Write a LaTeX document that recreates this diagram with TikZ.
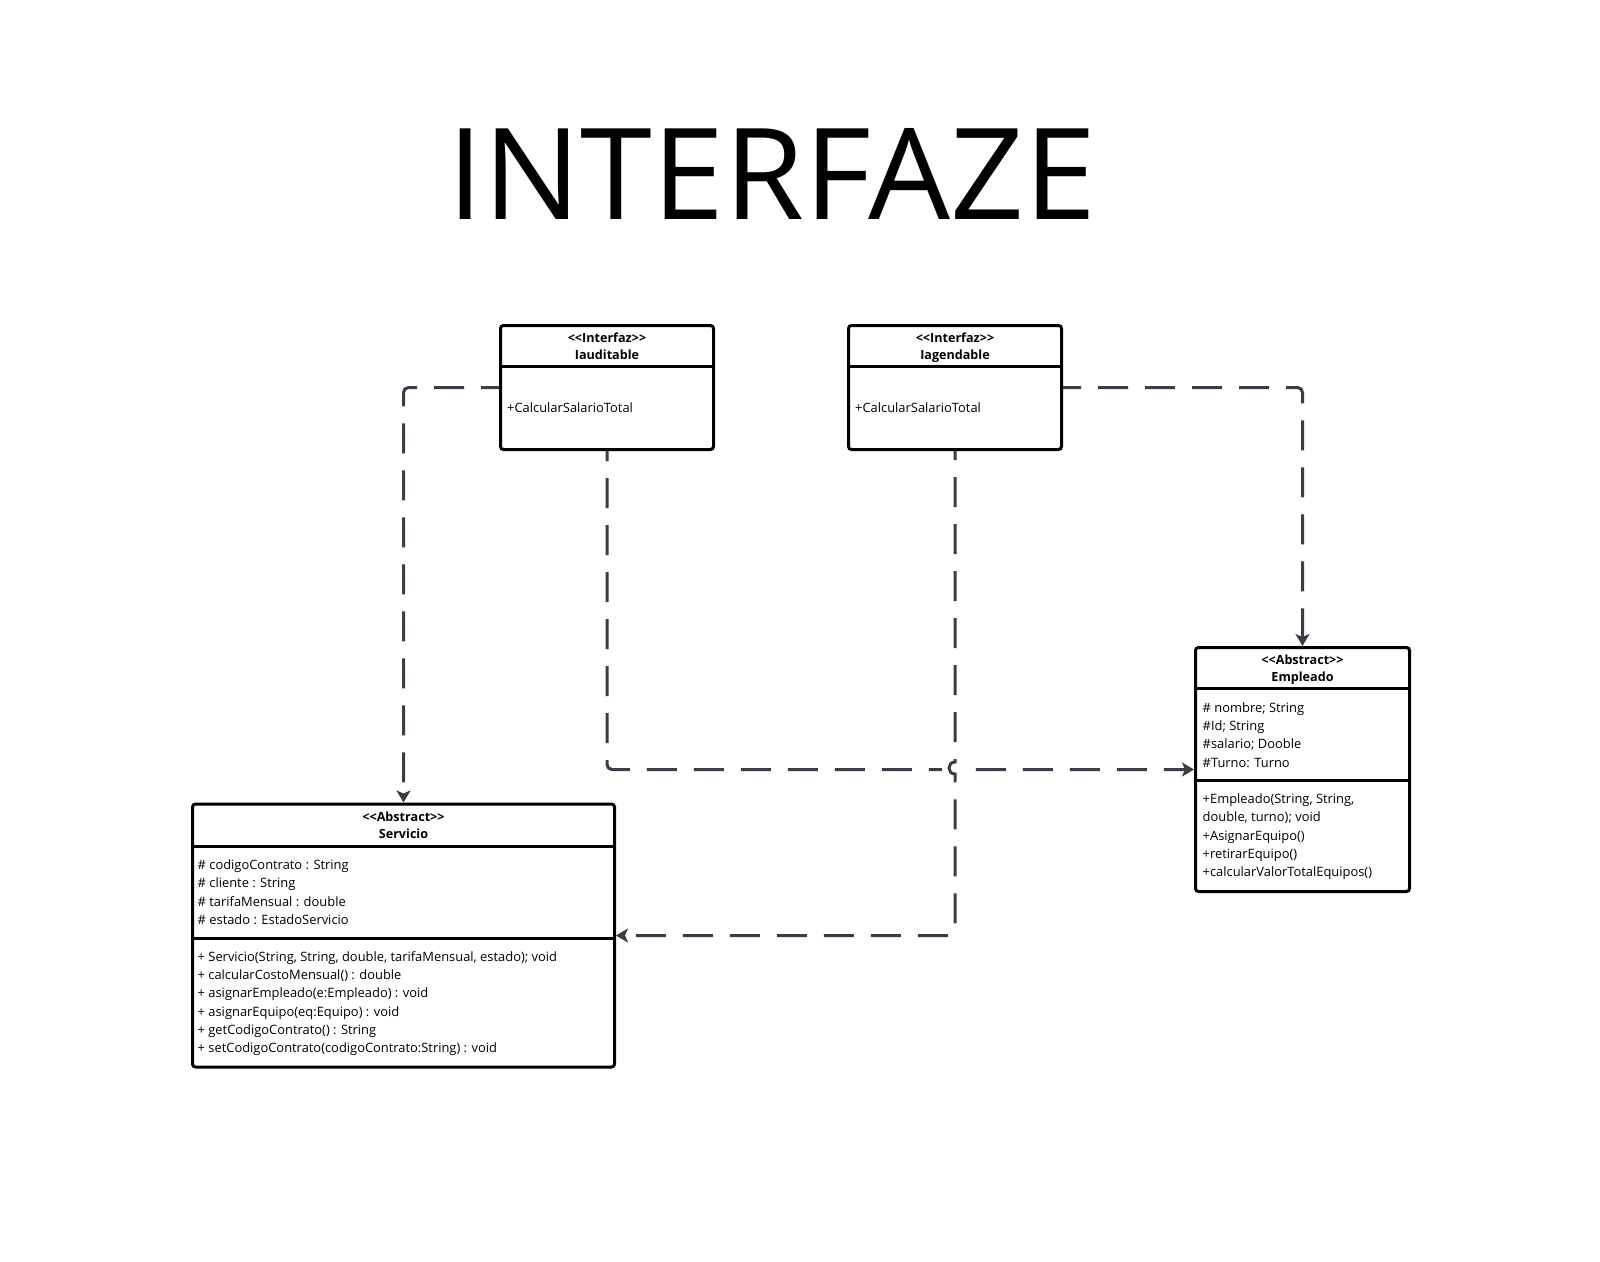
\documentclass[tikz,border=0pt]{standalone}
\usepackage{fontspec}
\setmainfont{Open Sans}
\usetikzlibrary{arrows.meta}
\definecolor{conn}{HTML}{3A3D45}
\begin{document}
\begin{tikzpicture}[x=1pt,y=-1pt,
  box/.style={draw=black, line width=3pt, rounded corners=3pt, inner sep=0pt, anchor=north west, fill=white},
  divider/.style={draw=black, line width=3pt},
  ln/.style={anchor=west, inner sep=0pt, font=\fontsize{12.9}{15}\selectfont, text height=9.2pt, text depth=0pt},
  hdr/.style={anchor=center, inner sep=0pt, font=\fontsize{12.6}{15}\selectfont\bfseries, text height=9pt, text depth=0pt},
  dep/.style={draw=conn, line width=3pt, dash pattern=on 30pt off 17pt,
    -{Stealth[length=12pt,width=14pt,inset=3pt]}}]
\useasboundingbox[fill=white] (0,0) rectangle (1600,1261);

% title
\node[inner sep=0pt, font=\fontsize{127}{130}\selectfont, text height=91pt, text depth=0pt] (title) at (772,173.5) {\scalebox{1.02}[1]{INTERFAZE}};

% boxes
\node[box, minimum width=213pt, minimum height=124pt] (aud) at (499,324) {};
\node[box, minimum width=213pt, minimum height=124pt] (agd) at (847,324) {};
\node[box, minimum width=214pt, minimum height=244pt] (emp) at (1194,646) {};
\node[box, minimum width=422pt, minimum height=263pt] (serv) at (191,802.5) {};

\draw[divider] (aud.west |- 0,366.5) -- (aud.east |- 0,366.5);
\draw[divider] (agd.west |- 0,366.5) -- (agd.east |- 0,366.5);
\draw[divider] (emp.west |- 0,688.5) -- (emp.east |- 0,688.5);
\draw[divider] (emp.west |- 0,780) -- (emp.east |- 0,780);
\draw[divider] (serv.west |- 0,846) -- (serv.east |- 0,846);
\draw[divider] (serv.west |- 0,938) -- (serv.east |- 0,938);

% Iauditable
\node[hdr] (audst) at (aud.north |- 0,337.5) {<{}<Interfaz>{}>};
\node[hdr] (audnm) at (aud.north |- 0,355) {Iauditable};
\node[ln] (audm) at (507,407.5) {+CalcularSalarioTotal};

% Iagendable
\node[hdr] (agdst) at (agd.north |- 0,337.5) {<{}<Interfaz>{}>};
\node[hdr] (agdnm) at (agd.north |- 0,355) {Iagendable};
\node[ln] (agdm) at (855,407.5) {+CalcularSalarioTotal};

% Empleado
\node[hdr] (empst) at (emp.north |- 0,659.5) {<{}<Abstract>{}>};
\node[hdr] (empnm) at (emp.north |- 0,677) {Empleado};
\node[ln] (ea1) at (1202.5,707.5) {\# nombre; String};
\node[ln] (ea2) at (1202.5,725.8) {\#Id; String};
\node[ln] (ea3) at (1202.5,744.2) {\#salario; Dooble};
\node[ln] (ea4) at (1202.5,762.5) {\#Turno: Turno};
\node[ln] (em1) at (1202.5,799) {+Empleado(String, String,};
\node[ln] (em2) at (1202.5,817.2) {double, turno); void};
\node[ln] (em3) at (1202.5,835.4) {+AsignarEquipo()};
\node[ln] (em4) at (1202.5,853.6) {+retirarEquipo()};
\node[ln] (em5) at (1202.5,871.8) {+calcularValorTotalEquipos()};

% Servicio
\node[hdr] (servst) at (serv.north |- 0,816.5) {<{}<Abstract>{}>};
\node[hdr] (servnm) at (serv.north |- 0,834) {Servicio};
\node[ln] (sa1) at (197.5,865) {\# codigoContrato : String};
\node[ln] (sa2) at (197.5,883.3) {\# cliente : String};
\node[ln] (sa3) at (197.5,901.6) {\# tarifaMensual : double};
\node[ln] (sa4) at (197.5,920) {\# estado : EstadoServicio};
\node[ln] (sm1) at (197.5,956.5) {+ Servicio(String, String, double, tarifaMensual, estado); void};
\node[ln] (sm2) at (197.5,974.8) {+ calcularCostoMensual() : double};
\node[ln] (sm3) at (197.5,993.1) {+ asignarEmpleado(e:Empleado) : void};
\node[ln] (sm4) at (197.5,1011.4) {+ asignarEquipo(eq:Equipo) : void};
\node[ln] (sm5) at (197.5,1029.7) {+ getCodigoContrato() : String};
\node[ln] (sm6) at (197.5,1048) {+ setCodigoContrato(codigoContrato:String) : void};

% connectors
\coordinate (jtop) at (agd.south |- 0,762);
\coordinate (jbot) at (agd.south |- 0,774);
\draw[dep, dash phase=12pt, rounded corners=5pt] (aud.west) -| (serv.north);
\draw[dep, dash phase=20pt, rounded corners=5pt] (aud.south) |- (emp.west);
\draw[dep, dash phase=12pt, rounded corners=5pt] (agd.east) -| (emp.north);
\fill[white] ([xshift=-13pt]jtop) rectangle ([xshift=5pt]jbot);
\draw[dep, dash phase=21pt] (agd.south) -- (jtop) .. controls ([xshift=-8pt]jtop) and ([xshift=-8pt]jbot) .. (jbot) [rounded corners=5pt] |- (serv.east);
\end{tikzpicture}
\end{document}
